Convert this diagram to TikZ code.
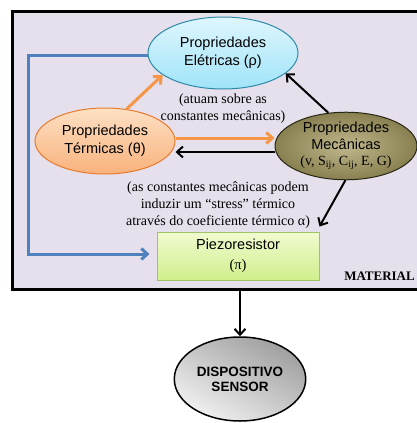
\documentclass[tikz,border=0pt]{standalone}
\usepackage{fontspec}
\setmainfont{Liberation Serif}
\setsansfont{Liberation Sans}
\usetikzlibrary{shapes.geometric,arrows.meta}
\definecolor{fundo}{HTML}{E5E0EC}
\definecolor{laranja}{HTML}{F79646}
\definecolor{azul}{HTML}{4F81BD}
\tikzset{>={Straight Barb[length=6pt,width=11pt]}, % open arrow heads
prop/.style={ellipse, draw, line width=1pt, inner sep=0pt, align=center, font=\sffamily\fontsize{14.5}{18}\selectfont}, % base style of the property ellipses
eletr/.style={prop, draw={rgb,255:red,46;green,138;blue,168}, top color={rgb,255:red,222;green,246;blue,253}, bottom color={rgb,255:red,160;green,228;blue,248}, minimum width=150pt, minimum height=72pt},
term/.style={prop, draw={rgb,255:red,232;green,122;blue,43}, top color={rgb,255:red,253;green,224;blue,196}, bottom color={rgb,255:red,249;green,178;blue,124}, minimum width=140pt, minimum height=66pt},
mec/.style={prop, draw={rgb,255:red,40;green,38;blue,20}, inner color={rgb,255:red,192;green,184;blue,140}, outer color={rgb,255:red,136;green,128;blue,80}, minimum width=142pt, minimum height=66pt},
nota/.style={align=center, font=\fontsize{14}{17}\selectfont}, % serif remarks
seta/.style={->, line width=2pt}, % black arrows
setal/.style={->, line width=3pt, laranja}, % orange arrows
}

\begin{document}
\begin{tikzpicture}[x=1pt,y=-1pt]
\useasboundingbox (0,0) rectangle (416,423);
\draw[line width=3pt, fill=fundo] (12.5,11) rectangle (430,289.5);
\node[eletr] (ele) at (223,53) {Propriedades\\Elétricas (ρ)};
\node[term] (ter) at (105,141) {Propriedades\\Térmicas (θ)};
\node[mec, font=\sffamily\fontsize{14.5}{16.5}\selectfont] (mec) at (346,146) {Propriedades\\Mecânicas\\{\rmfamily\fontsize{14}{16}\selectfont(v, S\textsubscript{ij}, C\textsubscript{ij}, E, G)}};
\node[draw={rgb,255:red,160;green,196;blue,100}, line width=1pt, top color={rgb,255:red,240;green,251;blue,208}, bottom color={rgb,255:red,208;green,239;blue,140}, minimum width=162pt, minimum height=48pt, align=center, font=\sffamily\fontsize{14.5}{20}\selectfont] (piezo) at (238,256) {Piezoresistor\\{\rmfamily(π)}};
\node[ellipse, draw, line width=1.5pt, left color=gray!75, right color=gray!12, shading angle=-30, minimum width=130pt, minimum height=84pt, align=center, font=\sffamily\bfseries\fontsize{13.5}{15}\selectfont] (sensor) at (240,379) {DISPOSITIVO\\SENSOR};
\node[font=\bfseries\fontsize{13}{15}\selectfont, anchor=east, inner sep=0pt] (material) at (415,276) {MATERIAL};
\node[nota] (nota1) at (223,109) {(atuam sobre as\\constantes mecânicas)};
\node[nota] (nota2) at (218,205) {(as constantes mecânicas podem\\induzir um “stress” térmico\\através do coeficiente térmico α)};
\coordinate (saida) at (240,291);
\coordinate (canto1) at (28,55);
\coordinate (canto2) at (28,254);
\draw[setal] (ter.56) -- (ele.200);
\draw[setal] (ter.east |- 0,138) -- (mec.west |- 0,138);
\draw[seta] (mec.west |- 0,152) -- (ter.east |- 0,152);
\draw[seta] (mec.118) -- (ele.-18);
\draw[seta] (mec.-91) -- ([yshift=5pt]piezo.north east);
\draw[->, line width=3pt, azul] (ele.west |- canto1) -- (canto1) -- (canto2) -- ([xshift=-7pt]piezo.west |- canto2);
\draw[seta] (saida) -- (sensor.north);
\end{tikzpicture}
\end{document}
